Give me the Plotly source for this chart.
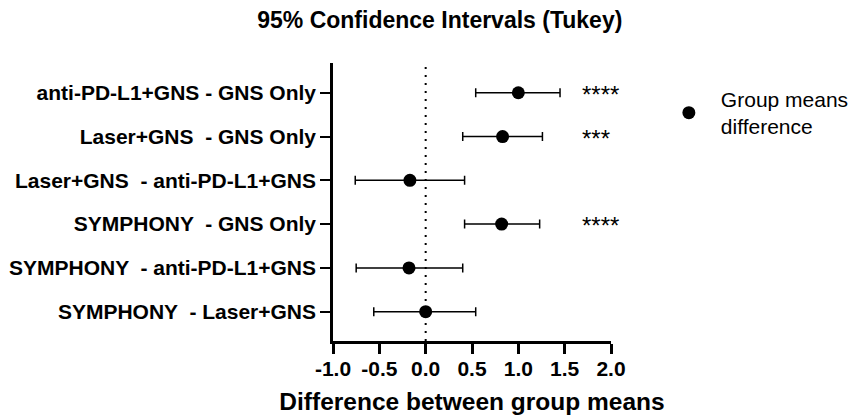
import plotly.graph_objects as go

# Tukey pairwise comparisons (top to bottom)
comparisons = [
    "anti-PD-L1+GNS - GNS Only",
    "Laser+GNS  - GNS Only",
    "Laser+GNS  - anti-PD-L1+GNS",
    "SYMPHONY  - GNS Only",
    "SYMPHONY  - anti-PD-L1+GNS",
    "SYMPHONY  - Laser+GNS",
]
mean_diff = [1.00, 0.83, -0.17, 0.82, -0.18, 0.00]
ci_lower = [0.54, 0.40, -0.76, 0.42, -0.75, -0.56]
ci_upper = [1.45, 1.26, 0.42, 1.23, 0.40, 0.54]
significance = ["****", "***", "", "****", "", ""]

x_ticks = [-1.0, -0.5, 0.0, 0.5, 1.0, 1.5, 2.0]

FONT = "Liberation Sans, Arial, sans-serif"

err_plus = [u - m for u, m in zip(ci_upper, mean_diff)]
err_minus = [m - l for m, l in zip(mean_diff, ci_lower)]

fig = go.Figure()
fig.add_trace(go.Scatter(
    x=mean_diff,
    y=comparisons,
    mode="markers",
    name="Group means<br>difference",
    marker=dict(color="black", size=13, symbol="circle"),
    error_x=dict(
        type="data", symmetric=False,
        array=err_plus, arrayminus=err_minus,
        color="black", thickness=1.5, width=4.5,
    ),
))

# Zero reference line
fig.add_shape(
    type="line", xref="x", yref="paper",
    x0=0, x1=0, y0=0, y1=1,
    line=dict(color="black", width=2, dash="2px,6px"),
    layer="below",
)

# Significance stars
for comp, sig in zip(comparisons, significance):
    if sig:
        fig.add_annotation(
            x=1.67, y=comp, xref="x", yref="y",
            text=sig, showarrow=False,
            xanchor="left", yanchor="middle", yshift=-1.5,
            font=dict(family=FONT, size=24, color="black"),
        )

fig.update_layout(
    width=859, height=418,
    margin=dict(l=333, r=248, t=63, b=77, autoexpand=False),
    paper_bgcolor="white", plot_bgcolor="white",
    font=dict(family=FONT, color="black"),
    title=dict(
        text="<b>95% Confidence Intervals (Tukey)</b>",
        x=0.512, xanchor="center", y=0.952, yanchor="middle",
        font=dict(family=FONT, size=23, color="black"),
    ),
    showlegend=True,
    legend=dict(
        x=1.165, y=0.943, xanchor="left", yanchor="top",
        font=dict(family=FONT, size=21, color="black"),
        bgcolor="rgba(0,0,0,0)",
        itemwidth=54,
    ),
)

fig.update_xaxes(
    range=[-1.0, 2.0],
    tickvals=x_ticks,
    ticktext=[f"<b>{v:.1f}</b>" for v in x_ticks],
    tickfont=dict(family=FONT, size=21, color="black"),
    showline=True, linecolor="black", linewidth=2.5,
    ticks="outside", ticklen=10, tickwidth=2.5, tickcolor="black",
    ticklabelstandoff=-3,
    showgrid=False, zeroline=False, automargin=False,
    title=dict(
        text="<b>Difference between group means</b>",
        font=dict(family=FONT, size=24.5, color="black"),
        standoff=14,
    ),
)

fig.update_yaxes(
    type="category",
    categoryorder="array", categoryarray=comparisons,
    range=[5.67, -0.68],
    tickvals=comparisons,
    ticktext=[f"<b>{c}</b>" for c in comparisons],
    tickfont=dict(family=FONT, size=21, color="black"),
    showline=True, linecolor="black", linewidth=2.5,
    ticks="outside", ticklen=10, tickwidth=2, tickcolor="black",
    showgrid=False, zeroline=False, automargin=False,
)

fig.write_html("out.html")
